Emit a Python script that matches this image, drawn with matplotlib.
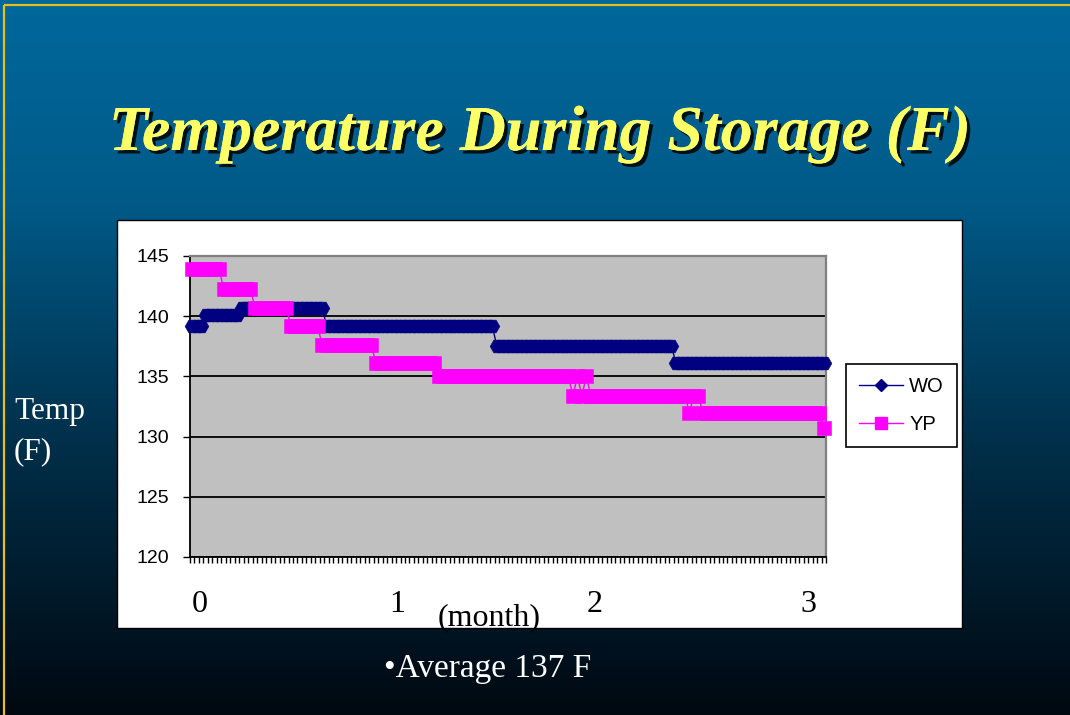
import numpy as np
import matplotlib
matplotlib.use('Agg')
import matplotlib.pyplot as plt
import matplotlib.transforms as mtransforms
from matplotlib.lines import Line2D
from matplotlib.patches import Rectangle
import matplotlib.patheffects as pe

# ---------------- data ----------------
title = "Temperature During Storage (F)"
series_names = ["WO", "YP"]
# step levels (deg F) and number of consecutive readings at each level
wo_levels = [139.2, 140.1, 140.7, 139.2, 137.5, 136.1]
wo_counts = [3, 8, 19, 38, 40, 34]
yp_levels = [143.9, 142.3, 140.7, 139.2, 137.6, 136.1, 135.0,
             133.4, 135.0, 133.4, 135.0, 133.4, 132.0, 133.4, 132.0, 130.7]
yp_counts = [7, 7, 8, 7, 12, 14, 30,
             1, 1, 1, 1, 22, 1, 2, 27, 1]
y_ticks = [120, 125, 130, 135, 140, 145]
month_labels = ["0", "1", "2", "3"]
month_index = [1.7, 45.8, 89.9, 137.5]   # reading index under each month label
x_label = "(month)"
y_label_lines = ["Temp", "(F)"]
note = "\u2022Average 137 F"

wo = np.repeat(wo_levels, wo_counts)
yp = np.repeat(yp_levels, yp_counts)
n = len(wo)
idx = np.arange(n)

# ---------------- figure ----------------
W, H = 1070, 715
fig = plt.figure(figsize=(W / 100, H / 100), dpi=100)

# background axes in pixel coordinates
bg = fig.add_axes([0, 0, 1, 1], zorder=-10)
bg.set_xlim(0, W)
bg.set_ylim(H, 0)
bg.axis('off')
stops_y = np.array([0, 200, 450, 715])
stops_c = np.array([[0, 104, 156], [0, 90, 136], [0, 46, 72], [0, 8, 16]]) / 255.0
yy = np.arange(H)
grad = np.stack([np.interp(yy, stops_y, stops_c[:, k]) for k in range(3)], axis=-1)
bg.imshow(grad[:, None, :], extent=[0, W, H, 0], aspect='auto', zorder=0)
bg.add_patch(Rectangle((4, 5), W, H, fill=False, edgecolor='#E6BE1E', lw=1.6, zorder=1))
# white chart box
bg.add_patch(Rectangle((117, 220), 845, 408, facecolor='white', edgecolor='black', lw=1.0, zorder=2))

serif = ['Liberation Serif', 'DejaVu Serif']
sans = ['Liberation Sans', 'DejaVu Sans']

bg.text(540, 150, title, ha='center', va='baseline', fontsize=46, fontweight='bold',
        fontstyle='italic', family=serif, color='#FFFF66', zorder=5,
        path_effects=[pe.withSimplePatchShadow(offset=(2.5, -2.5), shadow_rgbFace='black', alpha=0.85),
                      pe.Normal()])
bg.text(14, 419, y_label_lines[0], ha='left', va='baseline', fontsize=22.5, family=serif,
        color='white', zorder=5)
bg.text(14, 459, y_label_lines[1], ha='left', va='baseline', fontsize=22.5, family=serif,
        color='white', zorder=5)
bg.text(488, 677, note, ha='center', va='baseline', fontsize=24, family=serif,
        color='white', zorder=5)
bg.text(489, 625, x_label, ha='center', va='baseline', fontsize=23, family=serif,
        color='black', zorder=5)

# ---------------- plot area ----------------
left, right, top, bottom = 190, 826, 256, 557
ax = fig.add_axes([left / W, 1 - bottom / H, (right - left) / W, (bottom - top) / H], zorder=0)
ax.set_facecolor('#C0C0C0')
ax.set_xlim(-0.5, n - 0.5)
ax.set_ylim(y_ticks[0], y_ticks[-1])

ax.plot(idx, wo, color='#000080', lw=1.0, marker='H', ms=10.6, mec='#000080', mew=0.4,
        zorder=3, clip_on=False)
ax.plot(idx, yp, color='#FF00FF', lw=1.0, marker='s', ms=10.3, mec='#FF00FF', mew=0.4,
        zorder=4, clip_on=False)

ax.set_yticks(y_ticks)
ax.set_yticklabels([str(t) for t in y_ticks], family=sans, fontsize=14)
ax.set_xticks(np.arange(n + 1) - 0.5)
ax.set_xticklabels([])
ax.tick_params(axis='y', direction='out', length=5, width=1, pad=10, color='black')
ax.tick_params(axis='x', direction='out', length=4, width=1, color='black')
ax.yaxis.grid(True, color='black', lw=1.3)
ax.set_axisbelow(True)
for s in ('left', 'bottom'):
    ax.spines[s].set_color('black')
    ax.spines[s].set_linewidth(1.3)
for s in ('top', 'right'):
    ax.spines[s].set_color('#808080')
    ax.spines[s].set_linewidth(1.6)

# month labels under the category axis
trans = mtransforms.blended_transform_factory(ax.transData, fig.transFigure)
for pos, lab in zip(month_index, month_labels):
    ax.text(pos, 1 - 612 / H, lab, transform=trans, ha='center', va='baseline',
            fontsize=23, family=serif, color='black', clip_on=False)

# legend
handles = [Line2D([], [], color='#000080', lw=1.0, marker='D', ms=6.5, mec='#000080'),
           Line2D([], [], color='#FF00FF', lw=1.0, marker='s', ms=8, mec='#FF00FF')]
leg = fig.legend(handles, series_names, loc='center',
                 bbox_to_anchor=(901.5 / W, 1 - 405.5 / H),
                 frameon=True, fancybox=False, edgecolor='black', framealpha=1,
                 prop={'family': sans, 'size': 14.5}, handlelength=2.2, handletextpad=0.3,
                 borderpad=0.62, labelspacing=0.95, borderaxespad=0)
leg.get_frame().set_linewidth(1.2)

fig.savefig('out.png', dpi=100)
